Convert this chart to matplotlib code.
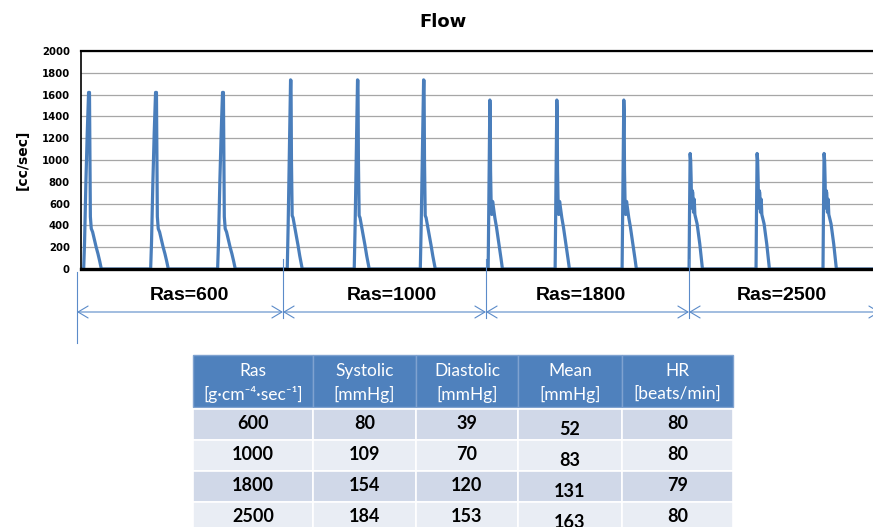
import numpy as np
import matplotlib.pyplot as plt
from matplotlib.patches import Rectangle

# Tabla de resultados
ras = [600, 1000, 1800, 2500]
sistolica = [80, 109, 154, 184]
diastolica = [39, 70, 120, 153]
media = [52, 83, 131, 163]
fc = [80, 80, 79, 80]

encabezados = [('Ras', '[g·cm⁻⁴·sec⁻¹]'), ('Systolic', '[mmHg]'), ('Diastolic', '[mmHg]'),
               ('Mean', '[mmHg]'), ('HR', '[beats/min]')]

# Forma de un latido para cada Ras (tiempo desde inicio en s, flujo en cc/sec)
t_600 = [0, 0.01, 0.025, 0.04, 0.055, 0.065, 0.07, 0.075, 0.085, 0.1, 0.12, 0.14, 0.16, 0.18, 0.198]
f_600 = [0, 250, 800, 1250, 1620, 1620, 1000, 480, 370, 340, 270, 200, 140, 70, 0]
t_1000 = [0, 0.01, 0.02, 0.03, 0.037, 0.042, 0.047, 0.055, 0.065, 0.08, 0.1, 0.12, 0.14, 0.168]
f_1000 = [0, 400, 900, 1450, 1735, 1730, 1000, 490, 470, 400, 310, 220, 120, 0]
t_1800 = [0, 0.006, 0.012, 0.019, 0.023, 0.027, 0.033, 0.04, 0.05, 0.06, 0.075, 0.093, 0.11, 0.13, 0.145, 0.16]
f_1800 = [0, 500, 1100, 1550, 1450, 900, 620, 500, 620, 560, 470, 385, 290, 180, 90, 0]
t_2500 = [0, 0.005, 0.012, 0.018, 0.024, 0.028, 0.035, 0.042, 0.05, 0.058, 0.065, 0.09, 0.12, 0.15]
f_2500 = [0, 500, 1060, 1000, 800, 560, 720, 700, 520, 640, 500, 415, 230, 0]

# Inicio de cada latido (s)
inicios_600 = [0.03, 0.78, 1.53]
inicios_1000 = [2.31, 3.06, 3.80]
inicios_1800 = [4.56, 5.31, 6.06]
inicios_2500 = [6.81, 7.56, 8.31]

azul = '#4a7ebb'
linea = '#5b8bc9'

# Armar la serie completa
tiempo = [0.0]
flujo = [0.0]
for t_lat, f_lat, inicios in [(t_600, f_600, inicios_600), (t_1000, f_1000, inicios_1000),
                              (t_1800, f_1800, inicios_1800), (t_2500, f_2500, inicios_2500)]:
    for s in inicios:
        tiempo += list(np.array(t_lat) + s)
        flujo += f_lat
tiempo.append(8.87)
flujo.append(0)

fig = plt.figure(figsize=(8.73, 5.27), dpi=100)
ax = fig.add_axes([81 / 873, 1 - 269 / 527, 792 / 873, 218 / 527])
ax.plot(tiempo, flujo, color=azul, lw=2.3, solid_joinstyle='round', zorder=2)
ax.set_xlim(0, 8.87)
ax.set_ylim(0, 2000)
ax.set_yticks(range(0, 2001, 200))
ax.set_xticks([])
ax.yaxis.grid(True, color='#a6a6a6', lw=0.9)
ax.set_axisbelow(True)
ax.spines['top'].set_linewidth(1.6)
ax.spines['bottom'].set_linewidth(2.4)
ax.spines['left'].set_linewidth(1.2)
ax.spines['right'].set_visible(False)
ax.tick_params(axis='y', length=0, pad=8, labelsize=7.3)
for lab in ax.get_yticklabels():
    lab.set_fontweight('bold')

fig.text(443 / 873, 1 - 22 / 527, 'Flow', ha='center', va='center', fontsize=13, fontweight='bold')
fig.text(23 / 873, 1 - 160 / 527, '[cc/sec]', rotation=90, ha='center', va='center',
         fontsize=10, fontweight='bold')

# Capa para anotaciones y tabla, en pixeles
ov = fig.add_axes([0, 0, 1, 1])
ov.set_xlim(0, 873)
ov.set_ylim(527, 0)
ov.axis('off')

divisiones = [77, 283, 486, 689]
ov.plot([77, 77], [272, 343], color=linea, lw=0.8)
for x in divisiones[1:]:
    ov.plot([x, x], [259, 318], color=linea, lw=0.8)
extremos = divisiones + [880]
for a, b in zip(extremos[:-1], extremos[1:]):
    ov.annotate('', xy=(b, 312), xytext=(a, 312), annotation_clip=False,
                arrowprops=dict(arrowstyle='<->,head_length=0.72,head_width=0.43', color=linea,
                                lw=0.8, shrinkA=0, shrinkB=0, mutation_scale=10))
centros_ras = [189, 392, 581, 782]
for x, r in zip(centros_ras, ras):
    ov.text(x, 295, f'Ras={r}', ha='center', va='center', fontsize=14, fontweight='bold',
            family=['Liberation Sans', 'DejaVu Sans'])

# Tabla
colx = [193, 313, 416, 518, 622, 733]
filas_y = [409, 440, 471, 502, 533]
fuente = ['Lato', 'DejaVu Sans']
for i in range(5):
    ov.add_patch(Rectangle((colx[i], 355), colx[i + 1] - colx[i], 52, facecolor='#4f81bd',
                           edgecolor='#7fa2d0', lw=1))
    ov.text((colx[i] + colx[i + 1]) / 2, 371, encabezados[i][0], ha='center', va='center',
            color='white', fontsize=12.5, family=fuente)
    ov.text((colx[i] + colx[i + 1]) / 2, 394, encabezados[i][1], ha='center', va='center',
            color='white', fontsize=12.5, family=fuente)

columnas = [ras, sistolica, diastolica, media, fc]
for j in range(4):
    color = '#d0d8e8' if j % 2 == 0 else '#e9edf4'
    for i in range(5):
        ov.add_patch(Rectangle((colx[i], filas_y[j]), colx[i + 1] - colx[i], filas_y[j + 1] - filas_y[j],
                               facecolor=color, edgecolor='white', lw=1.2))
        dy = 6 if i == 3 else 0
        ov.text((colx[i] + colx[i + 1]) / 2, (filas_y[j] + filas_y[j + 1]) / 2 - 1 + dy,
                str(columnas[i][j]), ha='center', va='center', fontsize=13, fontweight='bold',
                family=fuente)

fig.savefig('out.png', dpi=100)
